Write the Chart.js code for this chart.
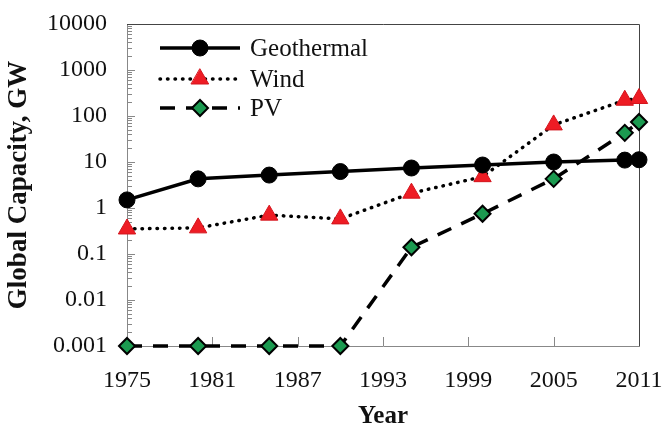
<!DOCTYPE html>
<html>
<head>
<meta charset="utf-8">
<script src="https://cdn.jsdelivr.net/npm/chart.js@4"></script>
<style>body{margin:0;background:#fff}</style>
</head>
<body>
<canvas id="chart" width="667" height="434"></canvas>
<script>
const years = [1975, 1980, 1985, 1990, 1995, 2000, 2005, 2010, 2011];
const geothermal = [1.5, 4.3, 5.2, 6.2, 7.4, 8.6, 10, 11, 11.2];
const wind = [0.35, 0.37, 0.7, 0.58, 2.1, 4.8, 64, 220, 240];
const pv = [0.001, 0.001, 0.001, 0.001, 0.14, 0.75, 4.3, 43, 74];
const xTicks = [1975, 1981, 1987, 1993, 1999, 2005, 2011];
const yMajor = [0.001, 0.01, 0.1, 1, 10, 100, 1000, 10000];

const serif = "'Liberation Serif', 'Times New Roman', serif";

// major + minor (2..9) ticks for the log axis
const yAll = [];
yMajor.forEach((v, i) => {
  yAll.push(v);
  if (i < yMajor.length - 1) {
    for (let m = 2; m <= 9; m++) yAll.push(+(v * m).toPrecision(3));
  }
});

const pts = arr => years.map((y, i) => ({x: y, y: arr[i]}));

// ticks pointing inward + frame
const frame = {
  id: 'frame',
  beforeDatasetsDraw(chart) {
    const {ctx, chartArea: a, scales} = chart;
    ctx.save();
    ctx.lineWidth = 1;
    ctx.strokeStyle = '#888';
    ctx.beginPath();
    scales.y.ticks.forEach(t => {
      const y = Math.round(scales.y.getPixelForValue(t.value)) + 0.5;
      const len = yMajor.includes(t.value) ? 8 : 5;
      ctx.moveTo(a.left, y); ctx.lineTo(a.left + len, y);
    });
    scales.x.ticks.forEach(t => {
      const x = Math.round(scales.x.getPixelForValue(t.value)) + 0.5;
      ctx.moveTo(x, a.bottom); ctx.lineTo(x, a.bottom - 9);
    });
    ctx.stroke();
    ctx.beginPath();
    ctx.moveTo(a.left + 0.5, a.top); ctx.lineTo(a.left + 0.5, a.bottom + 0.5);
    ctx.lineTo(a.right + 0.5, a.bottom + 0.5);
    ctx.stroke();
    ctx.strokeStyle = '#444';
    ctx.beginPath();
    ctx.moveTo(a.left, a.top + 0.5); ctx.lineTo(a.right + 0.5, a.top + 0.5);
    ctx.lineTo(a.right + 0.5, a.bottom + 0.5);
    ctx.stroke();
    ctx.restore();
  }
};

// legend with line sample + marker, inside the plot
const lineLegend = {
  id: 'lineLegend',
  afterDraw(chart) {
    const {ctx} = chart;
    const rows = [48, 79, 108];
    chart.data.datasets.forEach((ds, i) => {
      const y = rows[i];
      ctx.save();
      ctx.strokeStyle = ds.borderColor;
      ctx.lineWidth = ds.borderWidth;
      ctx.lineCap = ds.borderCapStyle || 'butt';
      ctx.setLineDash(ds.borderDash || []);
      ctx.beginPath();
      ctx.moveTo(160, y); ctx.lineTo(240, y);
      ctx.stroke();
      ctx.setLineDash([]);
      ctx.fillStyle = ds.pointBackgroundColor;
      ctx.strokeStyle = ds.pointBorderColor;
      ctx.lineWidth = ds.pointBorderWidth;
      Chart.helpers.drawPoint(ctx, {pointStyle: ds.pointStyle, radius: ds.pointRadius, rotation: 0, borderWidth: ds.pointBorderWidth}, 200, y);
      ctx.fillStyle = '#111';
      ctx.font = '25px ' + serif;
      ctx.textBaseline = 'middle';
      ctx.fillText(ds.label, 250, y + 1);
      ctx.restore();
    });
  }
};

new Chart(document.getElementById('chart'), {
  type: 'line',
  data: {
    datasets: [
      {
        label: 'Geothermal',
        data: pts(geothermal),
        borderColor: '#000',
        borderWidth: 3.5,
        pointStyle: 'circle',
        pointRadius: 8,
        pointBackgroundColor: '#000',
        pointBorderColor: '#000',
        pointBorderWidth: 1,
        clip: false
      },
      {
        label: 'Wind',
        data: pts(wind),
        borderColor: '#000',
        borderWidth: 3.5,
        borderDash: [0.5, 7],
        borderCapStyle: 'round',
        pointStyle: 'triangle',
        pointRadius: 10,
        pointBackgroundColor: '#ee1c24',
        pointBorderColor: '#d4141c',
        pointBorderWidth: 1,
        clip: false
      },
      {
        label: 'PV',
        data: pts(pv),
        borderColor: '#000',
        borderWidth: 3.5,
        borderDash: [15, 11],
        pointStyle: 'rectRot',
        pointRadius: 8,
        pointBackgroundColor: '#1b9a50',
        pointBorderColor: '#000',
        pointBorderWidth: 2,
        clip: false
      }
    ]
  },
  options: {
    responsive: false,
    animation: false,
    layout: {padding: {top: 24, right: 28, left: 0, bottom: 0}},
    plugins: {legend: {display: false}, tooltip: {enabled: false}},
    scales: {
      x: {
        type: 'linear',
        min: 1975,
        max: 2011,
        afterBuildTicks: s => { s.ticks = xTicks.map(v => ({value: v})); },
        afterFit: s => { s.height = 88; s.paddingLeft = 0; s.paddingRight = 0; },
        grid: {display: false, drawTicks: false},
        border: {display: false},
        ticks: {
          autoSkip: false,
          maxRotation: 0,
          padding: 20,
          color: '#111',
          font: {family: serif, size: 24},
          callback: v => String(v)
        },
        title: {
          display: true,
          text: 'Year',
          color: '#111',
          font: {family: serif, size: 25, weight: 'bold'},
          padding: {top: 0, bottom: 2}
        }
      },
      y: {
        type: 'logarithmic',
        min: 0.001,
        max: 10000,
        afterBuildTicks: s => { s.ticks = yAll.map(v => ({value: v})); },
        afterFit: s => { s.width = 127; s.paddingTop = 0; s.paddingBottom = 0; },
        grid: {display: false, drawTicks: false},
        border: {display: false},
        ticks: {
          autoSkip: false,
          padding: 20,
          color: '#111',
          font: {family: serif, size: 24},
          callback: v => yMajor.includes(v) ? String(v) : ''
        },
        title: {
          display: true,
          text: 'Global Capacity, GW',
          color: '#111',
          font: {family: serif, size: 27, weight: 'bold'},
          padding: {top: 3, bottom: 0}
        }
      }
    }
  },
  plugins: [frame, lineLegend]
});
</script>
</body>
</html>
